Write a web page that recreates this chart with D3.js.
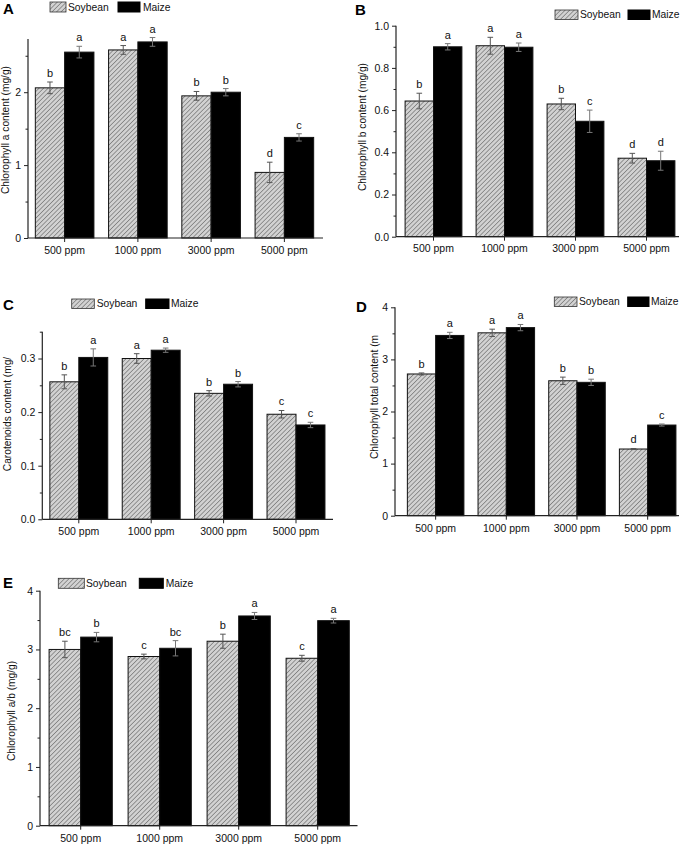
<!DOCTYPE html>
<html><head><meta charset="utf-8">
<script src="https://cdn.jsdelivr.net/npm/d3@7"></script>
<style>
body{margin:0;background:#fff;}
svg{display:block;font-family:"Liberation Sans",Arial,sans-serif;}
</style></head>
<body>
<svg id="chart" width="685" height="845"></svg>
<script>
const categories = ["500 ppm","1000 ppm","3000 ppm","5000 ppm"];
const seriesNames = ["Soybean","Maize"];

// Panel A: Chlorophyll a
const aSoy = [2.06, 2.58, 1.95, 0.90];
const aSoyErr = [0.08, 0.06, 0.06, 0.14];
const aMaize = [2.55, 2.69, 2.00, 1.38];
const aMaizeErr = [0.08, 0.06, 0.05, 0.05];
const aSoyLet = ["b","a","b","d"];
const aMaizeLet = ["a","a","b","c"];

// Panel B: Chlorophyll b
const bSoy = [0.643, 0.905, 0.629, 0.372];
const bSoyErr = [0.037, 0.04, 0.027, 0.023];
const bMaize = [0.90, 0.898, 0.547, 0.36];
const bMaizeErr = [0.015, 0.02, 0.053, 0.045];
const bSoyLet = ["b","a","b","d"];
const bMaizeLet = ["a","a","c","d"];

// Panel C: Carotenoids
const cSoy = [0.2565, 0.300, 0.235, 0.196];
const cSoyErr = [0.013, 0.009, 0.005, 0.007];
const cMaize = [0.302, 0.3155, 0.252, 0.176];
const cMaizeErr = [0.016, 0.004, 0.005, 0.005];
const cSoyLet = ["b","a","b","c"];
const cMaizeLet = ["a","a","b","c"];

// Panel D: Chlorophyll total
const dSoy = [2.72, 3.51, 2.59, 1.28];
const dSoyErr = [0.02, 0.07, 0.07, 0.01];
const dMaize = [3.46, 3.61, 2.56, 1.74];
const dMaizeErr = [0.06, 0.06, 0.06, 0.02];
const dSoyLet = ["b","a","b","d"];
const dMaizeLet = ["a","a","b","c"];

// Panel E: Chlorophyll a/b
const eSoy = [3.00, 2.88, 3.14, 2.85];
const eSoyErr = [0.14, 0.04, 0.12, 0.05];
const eMaize = [3.21, 3.02, 3.57, 3.49];
const eMaizeErr = [0.08, 0.13, 0.06, 0.04];
const eSoyLet = ["bc","c","b","c"];
const eMaizeLet = ["b","bc","a","a"];

// Tick values
const aTicks = [0,1,2], aMinor = [0.5,1.5,2.5];
const bTicks = [0,0.2,0.4,0.6,0.8,1.0], bMinor = [0.1,0.3,0.5,0.7,0.9];
const cTicks = [0,0.1,0.2,0.3], cMinor = [0.05,0.15,0.25,0.35];
const dTicks = [0,1,2,3,4], dMinor = [0.5,1.5,2.5,3.5];
const eTicks = [0,1,2,3,4], eMinor = [0.5,1.5,2.5,3.5];

const svg = d3.select("#chart");
const defs = svg.append("defs");
const pat = defs.append("pattern").attr("id","hatch").attr("patternUnits","userSpaceOnUse")
  .attr("width",3.2).attr("height",3.2).attr("patternTransform","rotate(45)");
pat.append("rect").attr("width",3.2).attr("height",3.2).attr("fill","#d2d2d2");
pat.append("line").attr("x1",0).attr("y1",0).attr("x2",0).attr("y2",3.2)
  .attr("stroke","#5c5c5c").attr("stroke-width",1.1);

const panels = [
  {letter:"A", lx:3, ly:14, soy:aSoy, soyErr:aSoyErr, maize:aMaize, maizeErr:aMaizeErr, soyLet:aSoyLet, maizeLet:aMaizeLet,
   ticks:aTicks, minor:aMinor, fmt:d3.format("d"), ydom:[0,2.73], yr:[238,39], axX:28, axEnd:323, band:[28,321],
   ylabel:"Chlorophyll a content (mg/g)", ylx:9, yly:130, xly:254,
   leg:{y:2, h:10, sx:50, sw:16, stx:68, mx:118, mw:22, mtx:143}},
  {letter:"B", lx:355, ly:15, soy:bSoy, soyErr:bSoyErr, maize:bMaize, maizeErr:bMaizeErr, soyLet:bSoyLet, maizeLet:bMaizeLet,
   ticks:bTicks, minor:bMinor, fmt:d3.format(".1f"), ydom:[0,1], yr:[236.7,25.7], axX:396, axEnd:679, band:[398,682],
   ylabel:"Chlorophyll b content (mg/g)", ylx:366, yly:127, xly:252,
   leg:{y:10, h:9.5, sx:555, sw:23, stx:580, mx:628, mw:22, mtx:652}},
  {letter:"C", lx:3, ly:310, soy:cSoy, soyErr:cSoyErr, maize:cMaize, maizeErr:cMaizeErr, soyLet:cSoyLet, maizeLet:cMaizeLet,
   ticks:cTicks, minor:cMinor, fmt:d3.format(".1f"), ydom:[0,0.35], yr:[519.3,331.7], axX:42.3, axEnd:333, band:[42.6,332.2],
   ylabel:"Carotenoids content (mg/", ylx:11, yly:414, xly:535,
   leg:{y:299, h:9.5, sx:71.7, sw:22.6, stx:96.7, mx:145.7, mw:23.3, mtx:171}},
  {letter:"D", lx:356, ly:312, soy:dSoy, soyErr:dSoyErr, maize:dMaize, maizeErr:dMaizeErr, soyLet:dSoyLet, maizeLet:dMaizeLet,
   ticks:dTicks, minor:dMinor, fmt:d3.format("d"), ydom:[0,4], yr:[515.7,307.3], axX:395, axEnd:679, band:[400.3,683],
   ylabel:"Chlorophyll total content (m", ylx:378, yly:397, xly:532,
   leg:{y:297, h:9.5, sx:554.3, sw:22.7, stx:579, mx:627.7, mw:21.3, mtx:651}},
  {letter:"E", lx:3, ly:588, soy:eSoy, soyErr:eSoyErr, maize:eMaize, maizeErr:eMaizeErr, soyLet:eSoyLet, maizeLet:eMaizeLet,
   ticks:eTicks, minor:eMinor, fmt:d3.format("d"), ydom:[0,4], yr:[825.7,590.7], axX:40, axEnd:357.5, band:[41.2,357.2],
   ylabel:"Chlorophyll a/b (mg/g)", ylx:15, yly:711, xly:842,
   leg:{y:578.3, h:10, sx:58.3, sw:26, stx:86, mx:139.3, mw:24, mtx:165.7}}
];

panels.forEach(p => {
  const g = svg.append("g");
  const x = d3.scaleBand().domain(categories).range(p.band).paddingInner(0.2).paddingOuter(0.1);
  const xs = d3.scaleBand().domain(seriesNames).range([0, x.bandwidth()]);
  const y = d3.scaleLinear().domain(p.ydom).range(p.yr);

  const rows = [];
  categories.forEach((c,i) => {
    rows.push({cat:c, s:"Soybean", v:p.soy[i], e:p.soyErr[i], l:p.soyLet[i]});
    rows.push({cat:c, s:"Maize", v:p.maize[i], e:p.maizeErr[i], l:p.maizeLet[i]});
  });

  // bars
  g.selectAll("rect.bar").data(rows).join("rect")
    .attr("x", d => x(d.cat) + xs(d.s))
    .attr("y", d => y(d.v))
    .attr("width", xs.bandwidth())
    .attr("height", d => y(0) - y(d.v))
    .attr("fill", d => d.s === "Soybean" ? "url(#hatch)" : "#000")
    .attr("stroke", "#111").attr("stroke-width", 1);

  // error bars
  const eb = g.selectAll("g.eb").data(rows).join("g")
    .attr("stroke", d => d.s === "Soybean" ? "#555" : "#777").attr("stroke-width", 1);
  eb.append("line")
    .attr("x1", d => x(d.cat) + xs(d.s) + xs.bandwidth()/2)
    .attr("x2", d => x(d.cat) + xs(d.s) + xs.bandwidth()/2)
    .attr("y1", d => y(d.v - d.e)).attr("y2", d => y(d.v + d.e));
  [1,-1].forEach(sg => {
    eb.append("line")
      .attr("x1", d => x(d.cat) + xs(d.s) + xs.bandwidth()/2 - 2.8)
      .attr("x2", d => x(d.cat) + xs(d.s) + xs.bandwidth()/2 + 2.8)
      .attr("y1", d => y(d.v + sg*d.e)).attr("y2", d => y(d.v + sg*d.e));
  });

  // significance letters
  g.selectAll("text.let").data(rows).join("text")
    .attr("x", d => x(d.cat) + xs(d.s) + xs.bandwidth()/2)
    .attr("y", d => y(d.v + d.e) - 5)
    .attr("text-anchor","middle").attr("font-size","11px").attr("fill","#111")
    .text(d => d.l);

  // y axis
  const ya = g.append("g").attr("transform", `translate(${p.axX},0)`)
    .call(d3.axisLeft(y).tickValues(p.ticks).tickFormat(p.fmt).tickSize(4).tickPadding(3).tickSizeOuter(0));
  ya.select(".domain").remove();
  ya.selectAll("text").attr("font-size","10.5px").attr("fill","#111").attr("font-family","Liberation Sans, Arial, sans-serif");
  ya.selectAll("line").attr("stroke","#222");
  const ym = g.append("g").attr("transform", `translate(${p.axX},0)`)
    .call(d3.axisLeft(y).tickValues(p.minor).tickFormat("").tickSize(2.5).tickSizeOuter(0));
  ym.select(".domain").remove();
  ym.selectAll("line").attr("stroke","#222");
  g.append("line").attr("x1",p.axX).attr("x2",p.axX).attr("y1",p.yr[0]).attr("y2",p.yr[1])
    .attr("stroke","#222").attr("stroke-width",1.2);

  // x axis
  const xa = g.append("g").attr("transform", `translate(0,${p.yr[0]})`)
    .call(d3.axisBottom(x).tickSize(4).tickPadding(4).tickSizeOuter(0));
  xa.select(".domain").remove();
  xa.selectAll("line").attr("stroke","#222");
  xa.selectAll("text").attr("font-size","10.5px").attr("fill","#111")
    .attr("font-family","Liberation Sans, Arial, sans-serif")
    .attr("y", p.xly - p.yr[0]).attr("dy","0");
  g.append("line").attr("x1",p.axX).attr("x2",p.axEnd).attr("y1",p.yr[0]).attr("y2",p.yr[0])
    .attr("stroke","#222").attr("stroke-width",1.2);

  // y label
  g.append("text").attr("transform", `translate(${p.ylx},${p.yly}) rotate(-90)`)
    .attr("text-anchor","middle").attr("font-size","10.2px").attr("fill","#111")
    .text(p.ylabel);

  // panel letter
  g.append("text").attr("x", p.lx).attr("y", p.ly).attr("font-size","15px")
    .attr("font-weight","bold").attr("fill","#000").text(p.letter);

  // legend
  const L = p.leg;
  g.append("rect").attr("x",L.sx).attr("y",L.y).attr("width",L.sw).attr("height",L.h)
    .attr("fill","url(#hatch)").attr("stroke","#333").attr("stroke-width",0.8);
  g.append("text").attr("x",L.stx).attr("y",L.y + L.h/2 + 3.6).attr("font-size","10.3px").attr("fill","#111").text(seriesNames[0]);
  g.append("rect").attr("x",L.mx).attr("y",L.y).attr("width",L.mw).attr("height",L.h)
    .attr("fill","#000").attr("stroke","#000");
  g.append("text").attr("x",L.mtx).attr("y",L.y + L.h/2 + 3.6).attr("font-size","10.3px").attr("fill","#111").text(seriesNames[1]);
});
</script>
</body></html>
